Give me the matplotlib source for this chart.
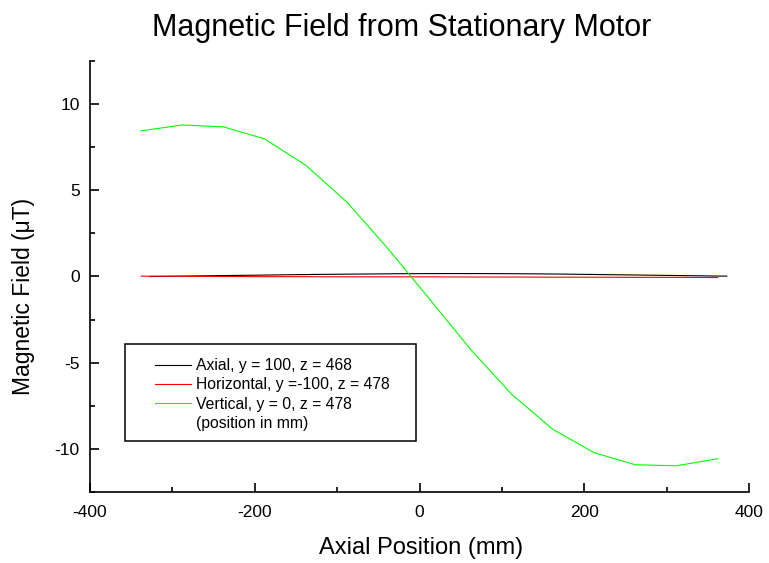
import matplotlib
matplotlib.use("Agg")
import matplotlib.pyplot as plt
from matplotlib.patches import Rectangle
from matplotlib.ticker import MultipleLocator, FuncFormatter

plt.rcParams['font.family'] = ['Liberation Sans', 'DejaVu Sans']

# Data (mm, µT)
x_axial = [-327, -277, -227, -177, -127, -77, -27, 23, 73, 123, 173, 223, 273, 323, 373]
b_axial = [0.0, 0.03, 0.06, 0.09, 0.12, 0.14, 0.16, 0.17, 0.17, 0.16, 0.14, 0.11, 0.08, 0.05, 0.02]

x_hv = [-338, -288, -238, -188, -138, -88, -38, 12, 62, 112, 162, 212, 262, 312, 362]
b_horizontal = [0.02, 0.01, 0.0, -0.01, -0.01, -0.02, -0.02, -0.02, -0.03, -0.03, -0.04, -0.04, -0.05, -0.05, -0.06]
b_vertical = [8.45, 8.79, 8.68, 7.98, 6.45, 4.31, 1.6, -1.3, -4.23, -6.84, -8.87, -10.22, -10.92, -10.98, -10.57]

labels = ["Axial, y = 100, z = 468",
          "Horizontal, y =-100, z = 478",
          "Vertical, y = 0, z = 478"]
note = "(position in mm)"

fig = plt.figure(figsize=(7.69, 5.63), dpi=100)
ax = fig.add_axes([90/769, 1-492/563, (749-90)/769, (492-61)/563])

lw = 0.8
l1, = ax.plot(x_axial, b_axial, color='black', lw=lw)
l2, = ax.plot(x_hv, b_horizontal, color='#ff0000', lw=lw)
l3, = ax.plot(x_hv, b_vertical, color='#00ff00', lw=lw)

ax.set_xlim(-400, 400)
ax.set_ylim(-12.5, 12.5)
ax.xaxis.set_major_locator(MultipleLocator(200))
ax.xaxis.set_minor_locator(MultipleLocator(100))
ax.yaxis.set_major_locator(MultipleLocator(5))
ax.yaxis.set_minor_locator(MultipleLocator(2.5))
for s in ['top', 'right']:
    ax.spines[s].set_visible(False)
for s in ['left', 'bottom']:
    ax.spines[s].set_linewidth(1.2)
ax.tick_params(which='major', direction='in', length=6.5, width=1.2, labelsize=12.5)
ax.tick_params(which='minor', direction='in', length=3.6, width=1.2)
ax.tick_params(axis='x', which='major', pad=9.5)
ax.tick_params(axis='y', which='major', pad=7.5)
fmt = FuncFormatter(lambda v, p: f"{v:g}")
ax.xaxis.set_major_formatter(fmt)
ax.yaxis.set_major_formatter(fmt)

ax.set_xlabel("Axial Position (mm)", fontsize=17, va='center')
ax.xaxis.set_label_coords((421-90)/659, (492-548)/431)
ax.set_ylabel("Magnetic Field (\u03bcT)", fontsize=16.5, va='center')
ax.yaxis.set_label_coords((24-90)/659, (492-296)/431)
fig.text(402/769, 1-28/563, "Magnetic Field from Stationary Motor", fontsize=22,
         ha='center', va='center')

# legend box
ax.add_patch(Rectangle(((125-90)/659, (492-441)/431), (416-125)/659, (441-344)/431,
                       transform=ax.transAxes, fill=False, edgecolor='black', lw=1.1, zorder=5))
blank, = ax.plot([], [], color='none')
leg = ax.legend([l1, l2, l3, blank], labels + [note], frameon=False, fontsize=11.3,
                loc='upper left', bbox_to_anchor=((155-90)/659, (492-358)/431),
                borderpad=0, borderaxespad=0, handlelength=2.3, handletextpad=0.3,
                labelspacing=0.28)

fig.savefig("out.png", dpi=100)
